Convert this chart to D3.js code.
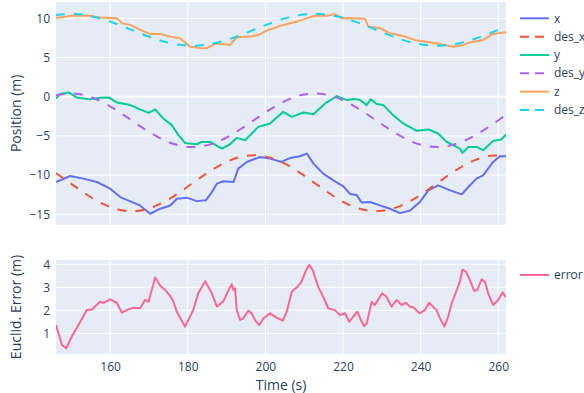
<!DOCTYPE html>
<html>
<head>
<meta charset="utf-8">
<script src="https://cdn.jsdelivr.net/npm/d3@7"></script>
<style>
  body { margin: 0; background: #fff; }
  text { font-family: "Open Sans", verdana, arial, sans-serif; fill: #2a3f5f; }
</style>
</head>
<body>
<div id="chart_div"></div>
<script>
// desired trajectory (sampled every 4 s)
var tDes = [146, 150, 154, 158, 162, 166, 170, 174, 178, 182, 186, 190, 194, 198, 202,
            206, 210, 214, 218, 222, 226, 230, 234, 238, 242, 246, 250, 254, 258, 262];
var desX = [-9.73, -11.12, -12.50, -13.65, -14.38, -14.60, -14.25, -13.39, -12.17, -10.76,
            -9.40, -8.30, -7.62, -7.48, -7.89, -8.80, -10.06, -11.47, -12.82, -13.88,
            -14.49, -14.56, -14.08, -13.12, -11.83, -10.41, -9.10, -8.08, -7.53, -7.53];
var desY = [0.18, 0.42, 0.12, -0.67, -1.83, -3.17, -4.48, -5.56, -6.24, -6.41,
            -6.04, -5.20, -4.01, -2.66, -1.37, -0.33, 0.29, 0.39, -0.04, -0.94,
            -2.16, -3.51, -4.78, -5.78, -6.33, -6.37, -5.87, -4.93, -3.68, -2.32];
var desZ = [10.44, 10.58, 10.40, 9.93, 9.24, 8.45, 7.67, 7.03, 6.63, 6.53,
            6.74, 7.25, 7.95, 8.75, 9.52, 10.14, 10.50, 10.56, 10.31, 9.78,
            9.05, 8.25, 7.49, 6.90, 6.57, 6.55, 6.84, 7.41, 8.15, 8.95];

// measured position
var tX = [146.05, 149.7, 153.1, 156.6, 160, 162.6, 165.2, 167.7, 170.3, 172.9, 175.5, 177.2, 179.8,
          182.3, 184.7, 186.2, 187.5, 189.2, 191.8, 193.0, 195.2, 198.6, 201.2, 204.2, 206.4, 208.9,
          210.7, 212.4, 214.9, 217.5, 220.1, 221.8, 223.5, 224.8, 227, 229.5, 232.1, 234.7, 237.3,
          239.8, 242, 244.5, 247.6, 250.6, 252.3, 254.4, 256.1, 258.7, 260.4, 262];
var xPos = [-10.88, -10.11, -10.45, -10.88, -11.73, -12.80, -13.35, -13.87, -14.93, -14.29, -13.87,
            -13.01, -12.88, -13.32, -13.20, -12.20, -11.09, -10.79, -10.88, -9.17, -8.32, -7.68,
            -7.89, -8.32, -7.81, -7.59, -7.25, -8.53, -9.81, -10.67, -11.43, -12.40, -12.55, -13.50,
            -13.44, -13.87, -14.29, -14.85, -14.51, -13.44, -11.95, -11.31, -11.95, -12.46, -11.52,
            -10.45, -10.03, -8.32, -7.59, -7.59];

var tY = [146.05, 147.1, 149.3, 151.4, 154.8, 157.4, 159.6, 161.7, 165.2, 167.7, 169.9, 171.6, 173.7,
          175.9, 177.6, 179.3, 182.3, 183.6, 185.8, 188.8, 190.9, 192.6, 194.8, 198.2, 201.2, 204.6,
          206.8, 209.8, 212.4, 215.4, 218.4, 221.0, 223.1, 224.4, 226.1, 227.1, 228.7, 230.4, 232.9,
          235.5, 239.0, 242.0, 244.5, 246.7, 250.1, 250.8, 252.3, 254.4, 256.1, 258.7, 260.8, 262];
var yPos = [-0.21, 0.35, 0.56, -0.08, -0.33, -0.13, -0.08, -0.72, -1.06, -1.61, -2.05, -1.61, -2.77,
            -3.62, -4.90, -5.89, -6.06, -5.76, -5.76, -6.61, -6.06, -5.25, -5.54, -3.84, -3.41, -1.92,
            -2.56, -2.00, -2.22, -0.85, 0.09, -0.42, -0.29, -0.42, -1.06, -0.33, -0.93, -1.06, -2.34,
            -3.41, -4.35, -4.17, -4.69, -5.76, -6.61, -7.17, -6.40, -6.40, -6.82, -5.63, -5.45, -4.81];

var tZ = [146.05, 149.7, 154, 157.4, 161.7, 163, 165.2, 167.3, 170.3, 172.9, 175.5, 178, 180.6, 183.2,
          184.9, 187.5, 190.9, 192.6, 196.1, 198.2, 200.4, 203.8, 208.1, 210.7, 213.2, 215.8, 217.9,
          219.7, 222.7, 225.7, 226.5, 229.5, 232.1, 235.5, 239, 242.4, 245, 248.4, 251, 252.3, 256.1,
          258.7, 262];
var zPos = [10.04, 10.33, 10.37, 10.12, 10.04, 9.40, 9.18, 8.63, 8.03, 8.03, 7.68, 7.48, 6.40, 6.22,
            6.20, 6.84, 6.62, 7.60, 7.68, 7.90, 8.45, 9.05, 9.60, 10.04, 10.37, 10.33, 10.55,
            10.04, 10.04, 9.95, 8.96, 8.76, 8.12, 7.77, 7.17, 6.97, 6.75, 6.40, 6.62, 6.91, 7.26,
            8.03, 8.25];

// euclidean error
var tErr = [146.05, 147.6, 148.7, 150.1, 152.3, 154.0, 155.3, 157.4, 158.3, 160.0, 161.7, 163.0, 164.7,
            166.0, 167.7, 169.0, 169.9, 171.6, 172.9, 174.2, 175.5, 176.3, 177.2, 179.3, 181.4, 182.7,
            184.5, 186.2, 187.5, 189.2, 190.5, 191.3, 191.8, 192.2, 192.6, 193.5, 194.3, 195.6, 196.5,
            197.3, 198.4, 199.5, 201.2, 202.9, 204.5, 205.5, 206.8, 208.1, 209.3, 210.5, 211.3, 212.2,
            213.6, 214.9, 216.2, 217.9, 219.2, 220.5, 221.6, 222.6, 223.7, 224.6, 225.4, 226.1, 227.4,
            228.2, 230.1, 231.2, 232.5, 233.8, 235.1, 236.2, 237.3, 238.1, 239.7, 241.1, 242.2, 243.2,
            244.1, 245.0, 246.1, 247.1, 248.0, 249.3, 250.1, 250.8, 251.7, 252.5, 253.8, 254.6, 255.7,
            256.6, 257.4, 258.7, 260.0, 261.1, 262.0];
var errVals = [1.36, 0.49, 0.35, 0.85, 1.50, 2.01, 2.04, 2.37, 2.33, 2.48, 2.33, 1.90, 2.04,
               2.11, 2.09, 2.45, 2.37, 3.43, 3.07, 2.88, 2.62, 2.37, 1.94, 1.29, 2.01, 2.74,
               3.27, 2.74, 2.16, 2.40, 2.88, 3.14, 2.88, 2.96, 2.01, 1.58, 1.65, 1.98, 1.87,
               1.58, 1.36, 1.65, 1.87, 1.68, 1.55, 1.94, 2.81, 3.00, 3.24, 3.75, 3.97, 3.75,
               3.03, 2.59, 2.09, 2.01, 1.80, 1.87, 1.50, 1.72, 1.94, 1.58, 1.32, 1.43, 2.37,
               2.23, 2.74, 2.59, 2.16, 2.45, 2.23, 2.33, 2.16, 2.13, 1.87, 2.01, 2.33, 2.16,
               2.01, 1.65, 1.29, 1.72, 2.30, 2.88, 3.24, 3.78, 3.68, 3.39, 2.85, 2.88, 3.35,
               3.24, 2.74, 2.23, 2.45, 2.78, 2.57];

var xTicks = [160, 180, 200, 220, 240, 260];
var posTicks = [-15, -10, -5, 0, 5, 10];
var errTicks = [1, 2, 3, 4];

function draw_chart() {
    var width = 584, height = 393;
    var left = 56, right = 506;
    var top1 = 2, bottom1 = 224.7;
    var top2 = 260, bottom2 = 354;
    var textColor = '#2a3f5f';

    var svg = d3.select('#chart_div')
        .append('svg')
        .attr('width', width)
        .attr('height', height);

    var x = d3.scaleLinear().domain([146.05, 262]).range([left, right]);
    var yPosScale = d3.scaleLinear().domain([-16.33, 12.10]).range([bottom1, top1]);
    var yErrScale = d3.scaleLinear().domain([0.10, 4.19]).range([bottom2, top2]);

    function panel(id, yScale, ticks, top, bottom, showX) {
        svg.append('rect')
            .attr('x', left).attr('y', top)
            .attr('width', right - left).attr('height', bottom - top)
            .attr('fill', '#E5ECF6');

        svg.append('clipPath').attr('id', id)
            .append('rect')
            .attr('x', left).attr('y', top)
            .attr('width', right - left).attr('height', bottom - top);

        // grid
        svg.append('g').selectAll('line')
            .data(xTicks).enter().append('line')
            .attr('x1', d => x(d)).attr('x2', d => x(d))
            .attr('y1', top).attr('y2', bottom)
            .attr('stroke', '#fff').attr('stroke-width', 1);
        svg.append('g').selectAll('line')
            .data(ticks).enter().append('line')
            .attr('x1', left).attr('x2', right)
            .attr('y1', d => yScale(d)).attr('y2', d => yScale(d))
            .attr('stroke', '#fff').attr('stroke-width', d => d === 0 ? 2 : 1);

        // y axis
        var yAxis = svg.append('g')
            .attr('transform', `translate(${left}, 0)`)
            .call(d3.axisLeft(yScale).tickValues(ticks).tickSize(0).tickPadding(6)
                .tickFormat(d => d < 0 ? '\u2212' + Math.abs(d) : d));
        yAxis.select('.domain').remove();
        yAxis.selectAll('text').style('font-size', '12px').attr('fill', textColor);

        if (showX) {
            var xAxis = svg.append('g')
                .attr('transform', `translate(0, ${bottom})`)
                .call(d3.axisBottom(x).tickValues(xTicks).tickSize(0).tickPadding(8));
            xAxis.select('.domain').remove();
            xAxis.selectAll('text').style('font-size', '12px').attr('fill', textColor);
        }

        return svg.append('g').attr('clip-path', `url(#${id})`);
    }

    var g1 = panel('clip_top', yPosScale, posTicks, top1, bottom1, false);
    var g2 = panel('clip_bottom', yErrScale, errTicks, top2, bottom2, true);

    var posSeries = [
        { name: 'x', t: tX, v: xPos, color: '#636efa', dash: null },
        { name: 'des_x', t: tDes, v: desX, color: '#EF553B', dash: '9,9' },
        { name: 'y', t: tY, v: yPos, color: '#00cc96', dash: null },
        { name: 'des_y', t: tDes, v: desY, color: '#ab63fa', dash: '9,9' },
        { name: 'z', t: tZ, v: zPos, color: '#FFA15A', dash: null },
        { name: 'des_z', t: tDes, v: desZ, color: '#19d3f3', dash: '9,9' }
    ];

    posSeries.forEach(function(s) {
        var line = d3.line()
            .x(d => x(d[0]))
            .y(d => yPosScale(d[1]))
            .curve(s.dash ? d3.curveCatmullRom : d3.curveLinear);
        g1.append('path')
            .datum(d3.zip(s.t, s.v))
            .attr('d', line)
            .attr('fill', 'none')
            .attr('stroke', s.color)
            .attr('stroke-width', 2)
            .attr('stroke-dasharray', s.dash)
            .attr('stroke-linejoin', 'round');
    });

    var errLine = d3.line()
        .x(d => x(d[0]))
        .y(d => yErrScale(d[1]));
    g2.append('path')
        .datum(d3.zip(tErr, errVals))
        .attr('d', errLine)
        .attr('fill', 'none')
        .attr('stroke', '#FF6692')
        .attr('stroke-width', 2)
        .attr('stroke-linejoin', 'round');

    // legends
    var legend = svg.append('g');
    posSeries.forEach(function(s, i) {
        var ly = 18.3 + i * 18.33;
        legend.append('line')
            .attr('x1', 520).attr('x2', 549)
            .attr('y1', ly).attr('y2', ly)
            .attr('stroke', s.color).attr('stroke-width', 2)
            .attr('stroke-dasharray', s.dash ? '9,6' : null);
        legend.append('text')
            .attr('x', 554).attr('y', ly)
            .attr('dy', '0.35em')
            .style('font-size', '12px')
            .text(s.name);
    });
    legend.append('line')
        .attr('x1', 520).attr('x2', 549)
        .attr('y1', 275).attr('y2', 275)
        .attr('stroke', '#FF6692').attr('stroke-width', 2);
    legend.append('text')
        .attr('x', 554).attr('y', 275)
        .attr('dy', '0.35em')
        .style('font-size', '12px')
        .text('error');

    // axis titles
    svg.append('text')
        .attr('transform', `translate(21, ${(top1 + bottom1) / 2}) rotate(-90)`)
        .style('text-anchor', 'middle')
        .style('font-size', '14px')
        .text('Position (m)');
    svg.append('text')
        .attr('transform', `translate(21, ${(top2 + bottom2) / 2}) rotate(-90)`)
        .style('text-anchor', 'middle')
        .style('font-size', '14px')
        .text('Euclid. Error (m)');
    svg.append('text')
        .attr('x', (left + right) / 2)
        .attr('y', 390)
        .style('text-anchor', 'middle')
        .style('font-size', '14px')
        .text('Time (s)');
}

document.addEventListener('DOMContentLoaded', draw_chart);
</script>
</body>
</html>
